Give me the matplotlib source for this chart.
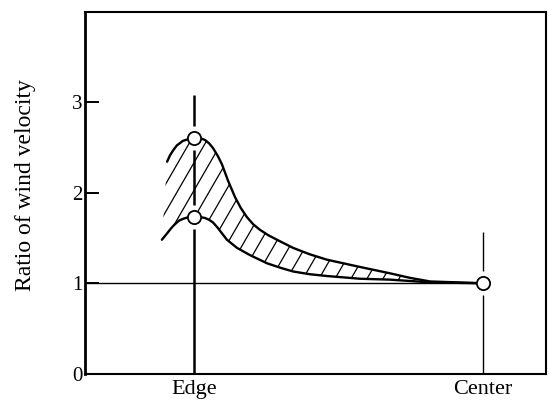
import numpy as np
import matplotlib
matplotlib.use("Agg")
import matplotlib.pyplot as plt
from matplotlib.patches import Polygon
from matplotlib.collections import LineCollection

# ---- data ----
x_categories = ["Edge", "Center"]
x_positions = [0.0, 1.0]
y_ticks = [0, 1, 2, 3]

upper_x = [-0.093, -0.083, -0.071, -0.059, -0.038, -0.018, 0.0, 0.020, 0.038, 0.053, 0.066, 0.083, 0.097, 0.118,
           0.142, 0.162, 0.183, 0.205, 0.228, 0.257, 0.287, 0.343, 0.400, 0.460, 0.574, 0.678, 0.747, 0.817, 1.0]
upper_y = [2.34, 2.41, 2.47, 2.52, 2.57, 2.59, 2.60, 2.60, 2.58, 2.54, 2.49, 2.40, 2.31, 2.13,
           1.95, 1.83, 1.73, 1.65, 1.59, 1.53, 1.48, 1.39, 1.32, 1.26, 1.18, 1.11, 1.06, 1.02, 1.0]

lower_x = [-0.111, -0.093, -0.078, -0.066, -0.052, -0.038, -0.018, 0.0, 0.020, 0.038, 0.052, 0.066, 0.080,
           0.097, 0.114, 0.149, 0.194, 0.253, 0.300, 0.343, 0.400, 0.460, 0.574, 0.678, 0.817, 1.0]
lower_y = [1.48, 1.55, 1.61, 1.65, 1.69, 1.71, 1.73, 1.73, 1.73, 1.72, 1.70, 1.67, 1.62,
           1.55, 1.48, 1.39, 1.31, 1.22, 1.17, 1.13, 1.10, 1.08, 1.05, 1.04, 1.01, 1.0]

edge_upper = 2.60
edge_lower = 1.73
center_value = 1.0
reference_level = 1.0
edge_line_top = 3.08
center_line_top = 1.57

# ---- figure ----
plt.rcParams['font.family'] = ['Liberation Serif', 'DejaVu Serif']
fig = plt.figure(figsize=(5.51, 4.00), dpi=100)
ax = fig.add_axes([85/551, 26/400, (546-85)/551, (374-12)/400])
ax.set_xlim(-0.377, 1.218)
ax.set_ylim(0, 3.99)

for side, sp in ax.spines.items():
    sp.set_linewidth(1.5 if side != 'left' else 2.0)
    sp.set_color('black')

ax.set_yticks(y_ticks)
ax.set_yticklabels([str(t) for t in y_ticks], fontsize=15)
ax.tick_params(axis='y', direction='in', length=10, width=1.4, pad=2)
ax.set_xticks(x_positions)
ax.set_xticklabels(x_categories, fontsize=16)
ax.tick_params(axis='x', length=0, pad=4)
ax.set_ylabel("Ratio of wind velocity", fontsize=17)
ax.yaxis.set_label_coords(-0.106, 0.522)

gap = 0.13
# reference line at 1
ax.hlines(reference_level, ax.get_xlim()[0], x_positions[1], color='black', lw=1.0, zorder=2)
# Edge vertical line (broken around the circles)
ax.vlines(x_positions[0], 0, edge_lower - gap, color='black', lw=1.8, zorder=2)
ax.vlines(x_positions[0], edge_lower + gap, edge_upper - gap, color='black', lw=1.8, zorder=2)
ax.vlines(x_positions[0], edge_upper + gap, edge_line_top, color='black', lw=1.8, zorder=2)
# Center vertical line
ax.vlines(x_positions[1], 0, center_value - gap, color='black', lw=1.0, zorder=2)
ax.vlines(x_positions[1], center_value + gap, center_line_top, color='black', lw=1.0, zorder=2)

# curves
ax.plot(upper_x, upper_y, color='black', lw=1.7, zorder=3, solid_capstyle='round', solid_joinstyle='round')
ax.plot(lower_x, lower_y, color='black', lw=1.7, zorder=3, solid_capstyle='round', solid_joinstyle='round')

# hatched region between curves (lines at ~60 degrees)
poly_xy = np.column_stack([np.concatenate([upper_x, lower_x[::-1]]),
                           np.concatenate([upper_y, lower_y[::-1]])])
clip = Polygon(poly_xy, closed=True, fill=False, edgecolor='none', transform=ax.transData)
ax.add_patch(clip)
w_px, h_px = 461.0, 362.0
spacing = 16.0 / w_px
dx = h_px / (np.tan(np.radians(60)) * w_px)
segs = [[(c, 0), (c + dx, 1)] for c in np.arange(-1, 2, spacing)]
lc = LineCollection(segs, colors='black', linewidths=0.9, transform=ax.transAxes, zorder=2)
ax.add_collection(lc)
lc.set_clip_path(clip)

# circles
ax.plot([x_positions[0], x_positions[0], x_positions[1]],
        [edge_upper, edge_lower, center_value],
        linestyle='none', marker='o', ms=9.5, mfc='white', mec='black', mew=1.3, zorder=4)

fig.savefig("out.png", dpi=100)
